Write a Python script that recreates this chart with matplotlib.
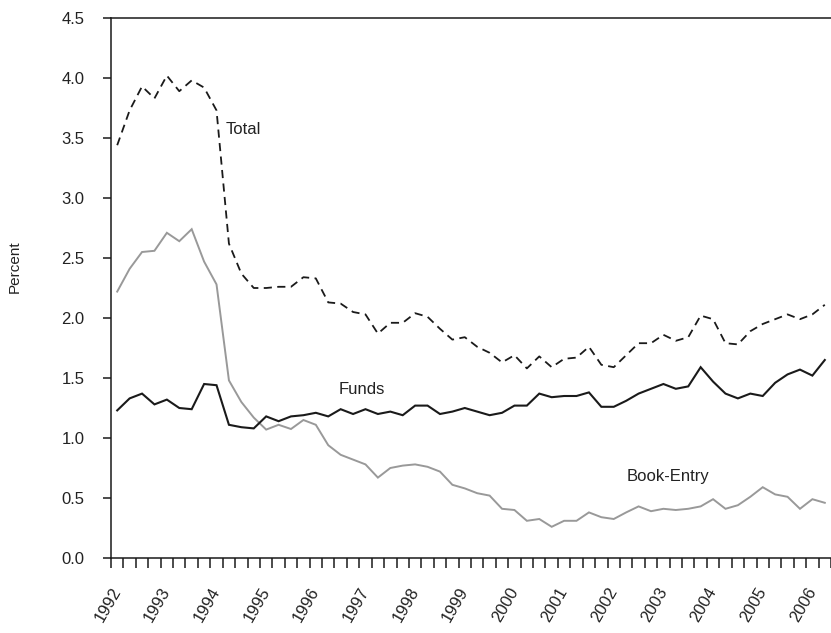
import matplotlib
matplotlib.use("Agg")
import matplotlib.pyplot as plt
import numpy as np

plt.rcParams['font.family'] = ['Liberation Sans', 'DejaVu Sans']

years = list(range(1992, 2007))
year_labels = [str(y) for y in years]

total = [3.44, 3.73, 3.93, 3.83, 4.02, 3.89, 3.98, 3.92, 3.73, 2.62, 2.37, 2.25,
         2.25, 2.26, 2.26, 2.34, 2.33, 2.13, 2.12, 2.05, 2.03, 1.87, 1.96, 1.96,
         2.04, 2.01, 1.91, 1.82, 1.84, 1.76, 1.71, 1.63, 1.69, 1.58, 1.68, 1.59,
         1.66, 1.67, 1.76, 1.61, 1.59, 1.69, 1.79, 1.79, 1.86, 1.81, 1.84, 2.02,
         1.99, 1.79, 1.78, 1.89, 1.95, 1.99, 2.03, 1.99, 2.03, 2.11]
funds = [1.23, 1.33, 1.37, 1.28, 1.32, 1.25, 1.24, 1.45, 1.44, 1.11, 1.09, 1.08,
         1.18, 1.14, 1.18, 1.19, 1.21, 1.18, 1.24, 1.20, 1.24, 1.20, 1.22, 1.19,
         1.27, 1.27, 1.20, 1.22, 1.25, 1.22, 1.19, 1.21, 1.27, 1.27, 1.37, 1.34,
         1.35, 1.35, 1.38, 1.26, 1.26, 1.31, 1.37, 1.41, 1.45, 1.41, 1.43, 1.59,
         1.47, 1.37, 1.33, 1.37, 1.35, 1.46, 1.53, 1.57, 1.52, 1.65]
book_entry = [2.22, 2.41, 2.55, 2.56, 2.71, 2.64, 2.74, 2.47, 2.28, 1.48, 1.30, 1.17,
              1.07, 1.11, 1.075, 1.15, 1.11, 0.94, 0.86, 0.82, 0.78, 0.67, 0.75, 0.77,
              0.78, 0.76, 0.72, 0.61, 0.58, 0.54, 0.52, 0.41, 0.40, 0.31, 0.325, 0.26,
              0.31, 0.31, 0.38, 0.34, 0.325, 0.38, 0.43, 0.39, 0.41, 0.40, 0.41, 0.43,
              0.49, 0.41, 0.44, 0.51, 0.59, 0.53, 0.51, 0.41, 0.49, 0.46]

n = len(total)
x = np.arange(n)

fig = plt.figure(figsize=(8.31, 6.33), dpi=100)
ax = fig.add_axes([111/831, 75/633, 720/831, 540/633])

dark = '#1a1a1a'
txt = '#222222'
ax.plot(x, book_entry, color='#999999', lw=1.4, solid_joinstyle='miter')
ax.plot(x, funds, color=dark, lw=1.5, solid_joinstyle='miter')
ax.plot(x, total, color=dark, lw=1.3, linestyle=(0, (4.5, 3)))

ax.set_xlim(-0.5, 57.05)
ax.set_ylim(0, 4.5)

ax.spines['right'].set_visible(False)
for s in ['left', 'bottom', 'top']:
    ax.spines[s].set_color(dark)
    ax.spines[s].set_linewidth(1.1)

yt = np.arange(0, 4.51, 0.5)
ax.set_yticks(yt)
ax.set_yticklabels([f"{v:.1f}" for v in yt])
ax.tick_params(axis='y', direction='out', length=6, width=1.1, color=dark,
               pad=13, labelsize=12, labelcolor=txt)

ax.set_xticks(np.arange(0, n, 4))
ax.set_xticklabels(year_labels, rotation=60, ha='right', va='center',
                   rotation_mode='anchor')
ax.set_xticks(np.arange(-0.5, n, 1), minor=True)
ax.tick_params(axis='x', which='major', length=0, pad=22, labelsize=12,
               labelcolor=txt)
ax.tick_params(axis='x', which='minor', direction='out', length=7, width=1.1,
               color=dark)

ax.set_ylabel('Percent', fontsize=11, color=txt)
ax.yaxis.set_label_coords(-89/720, 0.539)

ax.text(8.7, 3.57, 'Total', fontsize=12, color=txt, ha='left', va='center')
ax.text(17.8, 1.40, 'Funds', fontsize=12, color=txt, ha='left', va='center')
ax.text(41.0, 0.675, 'Book-Entry', fontsize=12, color=txt, ha='left', va='center')

fig.savefig('out.png', dpi=100)
